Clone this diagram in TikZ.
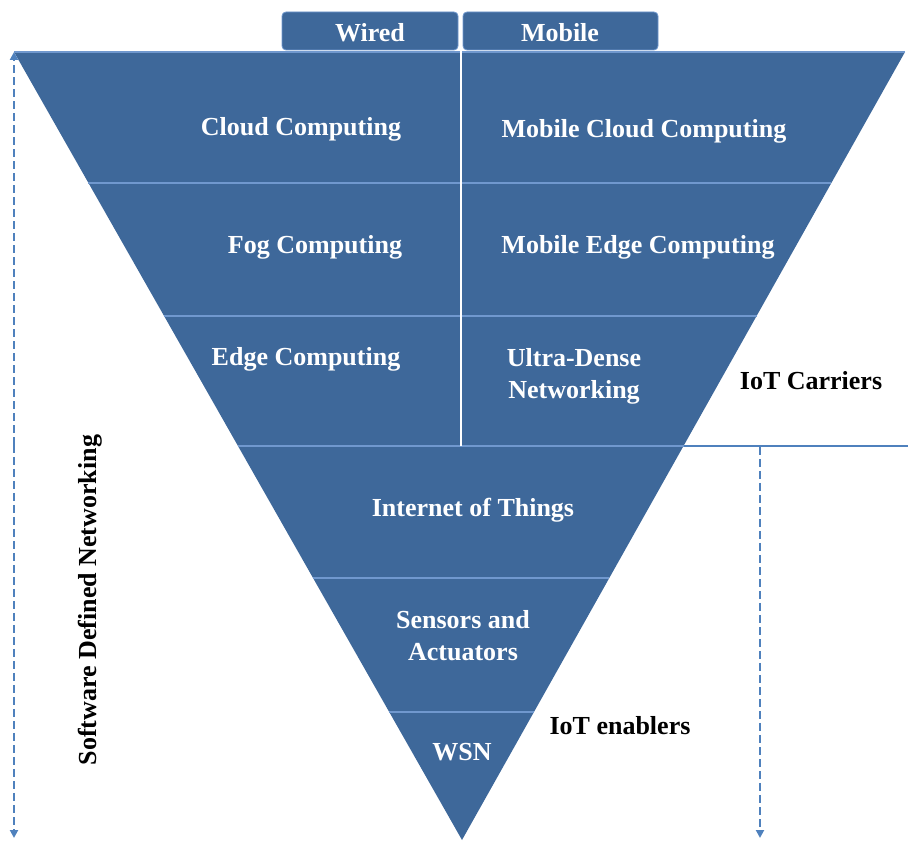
\documentclass[tikz,border=0pt]{standalone}
\usepackage{fontspec}
\setmainfont{Liberation Serif}
\usetikzlibrary{calc,arrows.meta}
\definecolor{bandblue}{RGB}{62,104,154}
\definecolor{seplight}{RGB}{112,152,206}
\definecolor{arrowblue}{RGB}{79,129,189}
\tikzset{
  bandtext/.style={text=white,align=center,inner sep=0pt},
  sidetext/.style={text=black,align=center,inner sep=0pt},
  tabbox/.style={fill=bandblue,draw=seplight,line width=0.6pt,rounded corners=3pt},
  seprule/.style={draw=seplight,line width=1.5pt},
  dasharrow/.style={draw=arrowblue,line width=1.8pt,dash pattern=on 6pt off 3pt,-{Triangle[length=6pt,width=6pt]}}
}
\begin{document}
\begin{tikzpicture}[x=0.75pt,y=-0.75pt,font=\fontsize{19.5}{24}\selectfont\bfseries]
  \useasboundingbox (0,0) rectangle (908,841);
  \coordinate (L) at (14,52);
  \coordinate (R) at (905,52);
  \coordinate (T) at (462,840);

  % band edges on the two sides
  \foreach \t/\n in {0.1662/a,0.335/b,0.5/c,0.6675/d,0.8376/e}{
    \coordinate (L\n) at ($(L)!\t!(T)$);
    \coordinate (R\n) at ($(R)!\t!(T)$);
  }

  % triangle and bands
  \fill[bandblue] (L) -- (R) -- (T) -- cycle;
  \draw[seprule] (L) -- (R);
  \foreach \n in {a,b,c,d,e}{
    \draw[seprule] (L\n) -- (R\n);
  }

  % tabs and split line
  \draw[tabbox] (282,12) rectangle (458,50);
  \draw[tabbox] (463,12) rectangle (658,50);
  \draw[white,line width=2pt] (461,12) -- (461,446);
  \node[bandtext] (wired) at (370,33) {Wired};
  \node[bandtext] (mobile) at (560,33) {Mobile};

  % band labels
  \node[bandtext] (cloud) at (301,129) {Cloud Computing};
  \node[bandtext] (mcloud) at (644,131) {Mobile Cloud Computing};
  \node[bandtext] (fog) at (315,247) {Fog Computing};
  \node[bandtext] (medge) at (638,247) {Mobile Edge Computing};
  \node[bandtext] (edge) at (306,359) {Edge Computing};
  \node[bandtext] (udn) at (574,376) {Ultra-Dense\\Networking};
  \node[bandtext] (iot) at (473,510) {Internet of Things};
  \node[bandtext] (sensors) at (463,636) {Sensors and\\Actuators};
  \node[bandtext] (wsn) at (462,752) {WSN};

  % side labels
  \node[sidetext] (carriers) at (811,381) {IoT Carriers};
  \node[sidetext] (enablers) at (620,726) {IoT enablers};
  \node[sidetext,rotate=90] (sdn) at (90,600) {Software Defined Networking};

  % arrows
  \coordinate (sdnTop) at (14,52);
  \coordinate (sdnBot) at (14,838);
  \coordinate (sdnMid) at (14,445);
  \coordinate (ruleEnd) at (908,446);
  \coordinate (encTop) at (760,447);
  \coordinate (encBot) at (760,838);
  \draw[dasharrow] (sdnMid) -- (sdnTop);
  \draw[dasharrow] (sdnMid) -- (sdnBot);
  \draw[draw=arrowblue,line width=1.5pt] (Rc) -- (ruleEnd);
  \draw[dasharrow] (encTop) -- (encBot);
\end{tikzpicture}
\end{document}
